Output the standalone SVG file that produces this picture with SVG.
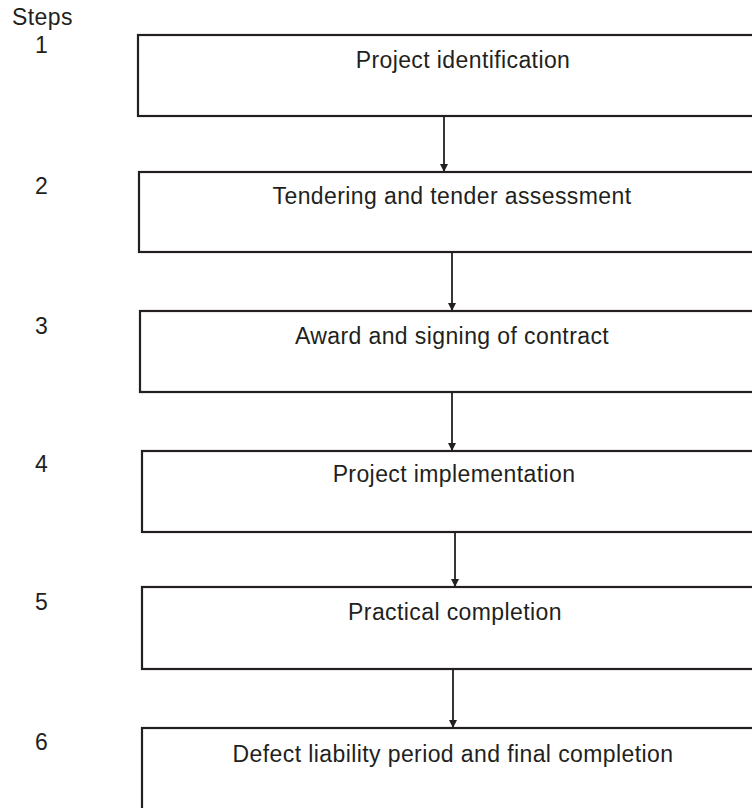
<svg xmlns="http://www.w3.org/2000/svg" width="752" height="808" viewBox="0 0 752 808">
<style>
.box{fill:#fff;stroke:#231f20;stroke-width:2.2}
.t{font-family:"Liberation Sans",Arial,sans-serif;font-size:23px;letter-spacing:0.4px;fill:#231f20}
.c{text-anchor:middle}
.ln{stroke:#231f20;stroke-width:1.8;fill:none}
</style>
<defs>
<marker id="ah" viewBox="0 0 8 8" refX="8" refY="4" markerWidth="8" markerHeight="8" markerUnits="userSpaceOnUse" orient="auto">
<path d="M0,0 L8,4 L0,8 Z" fill="#231f20"/>
</marker>
</defs>
<rect width="752" height="808" fill="#fff"/>
<text class="t" x="12" y="25">Steps</text>
<g id="step1"><text class="t" x="35" y="53">1</text><rect class="box" x="138" y="35" width="630" height="81"/><text class="t c" x="463" y="68">Project identification</text></g>
<g id="step2"><text class="t" x="35" y="194">2</text><rect class="box" x="139" y="172" width="630" height="80"/><text class="t c" x="452" y="204">Tendering and tender assessment</text></g>
<g id="step3"><text class="t" x="35" y="334">3</text><rect class="box" x="140" y="311" width="630" height="81"/><text class="t c" x="452" y="344">Award and signing of contract</text></g>
<g id="step4"><text class="t" x="35" y="472">4</text><rect class="box" x="142" y="451" width="630" height="81"/><text class="t c" x="454" y="482">Project implementation</text></g>
<g id="step5"><text class="t" x="35" y="610">5</text><rect class="box" x="142" y="587" width="630" height="82"/><text class="t c" x="455" y="620">Practical completion</text></g>
<g id="step6"><text class="t" x="35" y="750">6</text><rect class="box" x="142" y="728" width="630" height="100"/><text class="t c" x="453" y="762">Defect liability period and final completion</text></g>
<g id="connectors">
<line class="ln" x1="444" y1="116" x2="444" y2="172" marker-end="url(#ah)"/>
<line class="ln" x1="452" y1="252" x2="452" y2="311" marker-end="url(#ah)"/>
<line class="ln" x1="452" y1="392" x2="452" y2="451" marker-end="url(#ah)"/>
<line class="ln" x1="455" y1="532" x2="455" y2="587" marker-end="url(#ah)"/>
<line class="ln" x1="453" y1="669" x2="453" y2="728" marker-end="url(#ah)"/>
</g>
</svg>
